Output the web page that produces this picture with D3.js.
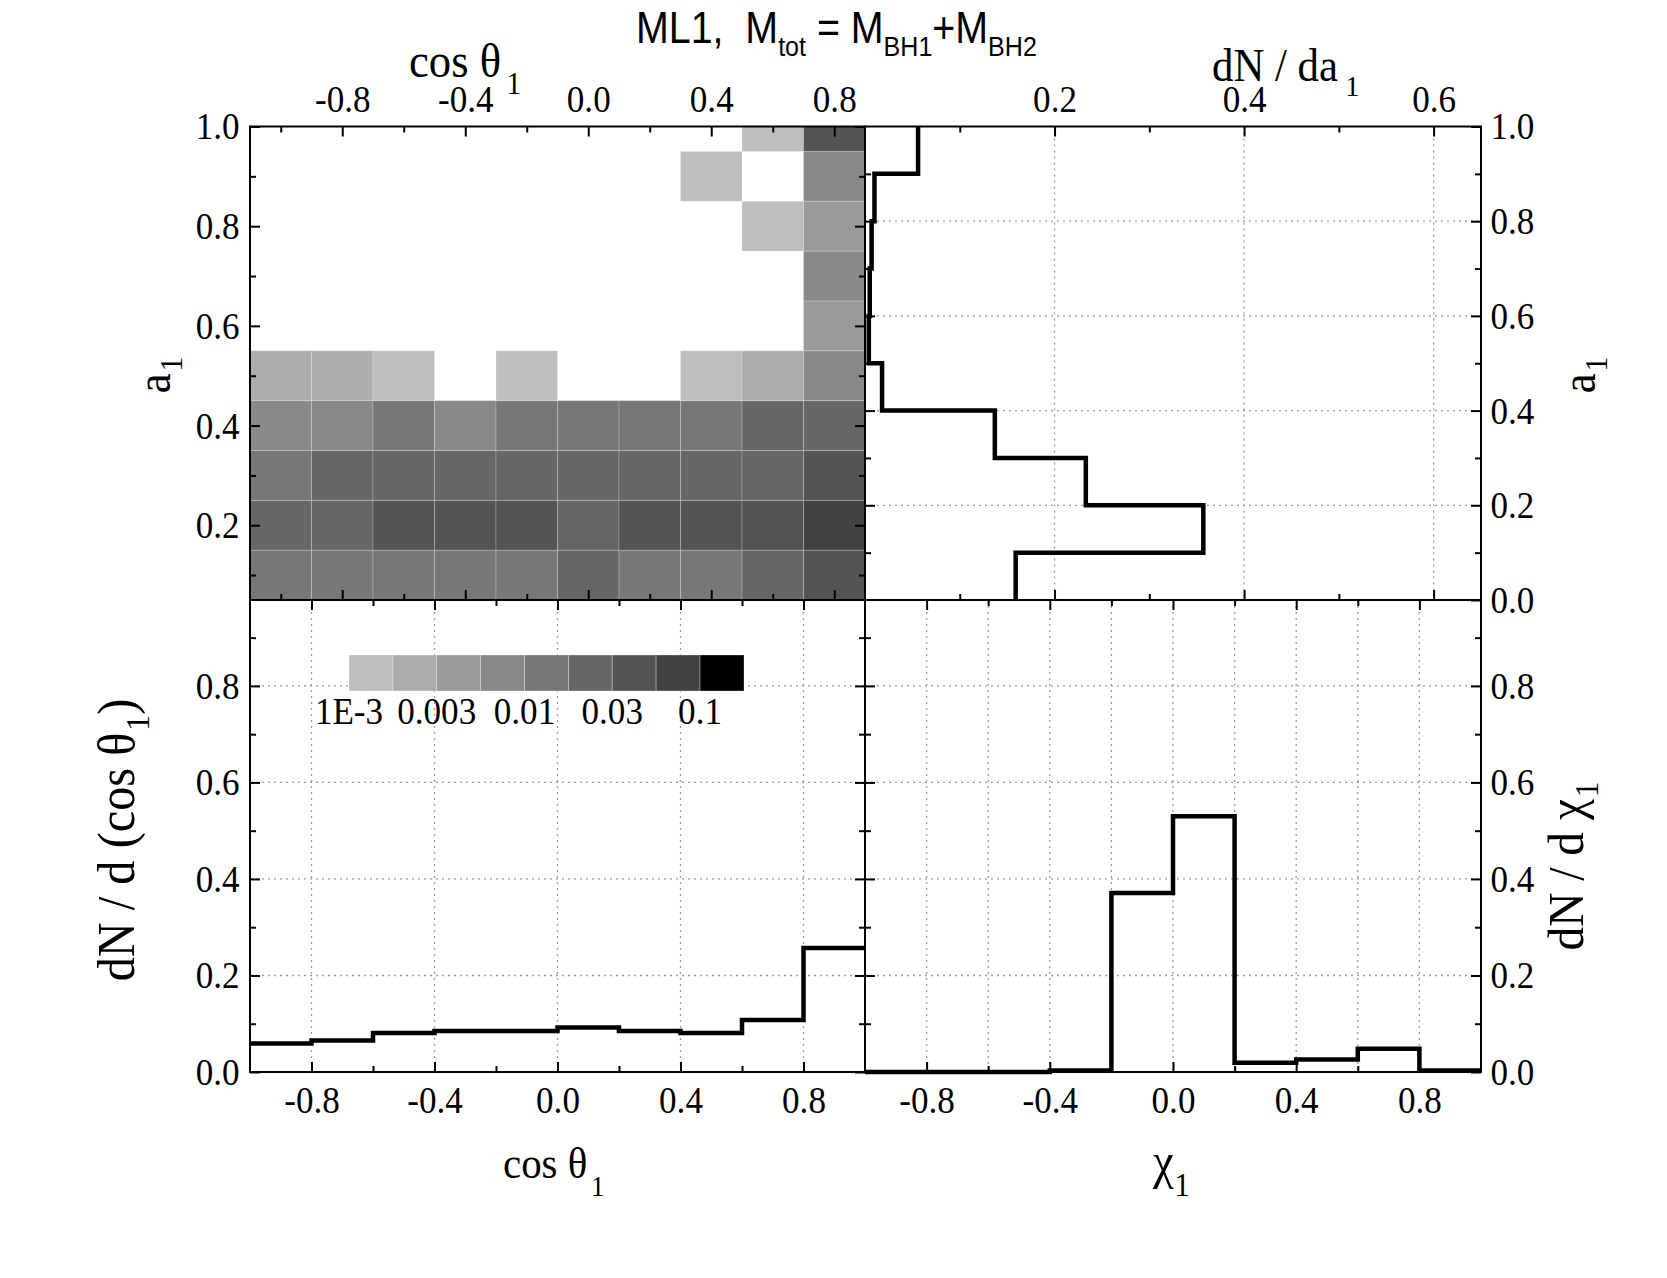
<!DOCTYPE html>
<html>
<head>
<meta charset="utf-8">
<script src="https://cdnjs.cloudflare.com/ajax/libs/d3/7.8.5/d3.min.js"></script>
<style>
  body { margin: 0; background: #fff; }
  svg { display: block; }
  text { font-family: "Liberation Serif", "Times New Roman", serif; fill: #000; }
  .tk { transform-box: fill-box; transform-origin: center; transform: scaleX(0.9); }
  .grid line { stroke: #9a9a9a; stroke-width: 1.3; stroke-dasharray: 2, 4; }
  .frame { fill: none; stroke: #000; stroke-width: 2; }
  .hist { fill: none; stroke: #000; stroke-width: 4.5; stroke-linejoin: miter; }
</style>
</head>
<body>
<div id="graph"></div>
<script>
// ---- data ----
// heat map: rows are a1 bin centres, columns are cos(theta1) bin centres
const cosCentres = [-1.0, -0.8, -0.6, -0.4, -0.2, 0.0, 0.2, 0.4, 0.6, 0.8];
const a1Centres = [0.1, 0.2, 0.3, 0.4, 0.5, 0.6, 0.7, 0.8, 0.9, 1.0];
const heatValues = [
  [0.014, 0.013, 0.014, 0.013, 0.014, 0.024, 0.013, 0.014, 0.022, 0.042],
  [0.028, 0.028, 0.044, 0.043, 0.041, 0.023, 0.043, 0.042, 0.040, 0.075],
  [0.014, 0.024, 0.025, 0.024, 0.023, 0.024, 0.025, 0.023, 0.024, 0.045],
  [0.0076, 0.0078, 0.013, 0.0074, 0.014, 0.013, 0.014, 0.013, 0.022, 0.025],
  [0.0024, 0.0025, 0.0014, 0, 0.0013, 0, 0, 0.0013, 0.0024, 0.0078],
  [0, 0, 0, 0, 0, 0, 0, 0, 0, 0.0043],
  [0, 0, 0, 0, 0, 0, 0, 0, 0, 0.0074],
  [0, 0, 0, 0, 0, 0, 0, 0, 0.0013, 0.0042],
  [0, 0, 0, 0, 0, 0, 0, 0.0014, 0, 0.0076],
  [0, 0, 0, 0, 0, 0, 0, 0, 0.0013, 0.044]
];
const levelBounds = [0.001, 0.00178, 0.00316, 0.00562, 0.01, 0.0178, 0.0316, 0.0562, 0.1, 0.178];
const levelColors = ["#bebebe", "#acacac", "#9a9a9a", "#898989", "#777777", "#666666", "#545454", "#424242", "#000000"];
const legendTickValues = [0.001, 0.00316, 0.01, 0.0316, 0.1];
const legendTickLabels = ["1E-3", "0.003", "0.01", "0.03", "0.1"];

// dN/da1 histogram
const a1Edges = [0, 0.1, 0.2, 0.3, 0.4, 0.5, 0.6, 0.7, 0.8, 0.9, 1.0];
const dNda1 = [0.159, 0.357, 0.233, 0.137, 0.018, 0.004, 0.005, 0.007, 0.010, 0.056];

// dN/dcos(theta1) histogram
const cosEdges = [-1.0, -0.8, -0.6, -0.4, -0.2, 0.0, 0.2, 0.4, 0.6, 0.8, 1.0];
const dNdcos = [0.059, 0.0655, 0.081, 0.085, 0.085, 0.092, 0.085, 0.081, 0.108, 0.257];

// dN/dchi1 histogram
const chiEdges = [-1.0, -0.8, -0.6, -0.4, -0.2, 0.0, 0.2, 0.4, 0.6, 0.8, 1.0];
const dNdchi = [0, 0, 0, 0.003, 0.371, 0.530, 0.019, 0.026, 0.048, 0.003];

// tick values
const cosMajor = [-0.8, -0.4, 0.0, 0.4, 0.8];
const cosMinorHeat = [-1.0, -0.6, -0.2, 0.2, 0.6];
const cosMinor = [-0.6, -0.2, 0.2, 0.6];
const chiGrid = [-0.8, -0.6, -0.4, -0.2, 0.0, 0.2, 0.4, 0.6, 0.8];
const a1MajorHeat = [0.2, 0.4, 0.6, 0.8, 1.0];
const a1Major = [0.0, 0.2, 0.4, 0.6, 0.8, 1.0];
const a1Minor = [0.1, 0.3, 0.5, 0.7, 0.9];
const dNMajor = [0.2, 0.4, 0.6];
const dNMinor = [0.1, 0.3, 0.5];
const pdfMajor = [0.0, 0.2, 0.4, 0.6, 0.8];
const pdfMinor = [0.1, 0.3, 0.5, 0.7, 0.9];
const pdfGrid = [0.2, 0.4, 0.6, 0.8];

// ---- layout ----
const W = 1667, H = 1278;
const L = 250, M = 865, R = 1481, T = 126.5, C = 600, B = 1072;
const tickFont = 39;

const svg = d3.select("#graph").append("svg").attr("width", W).attr("height", H);

const xHeat = d3.scaleLinear().domain([-1.1, 0.9]).range([L, M]);
const yHeat = d3.scaleLinear().domain([0.05, 1.0]).range([C, T]);
const xA = d3.scaleLinear().domain([0, 0.65]).range([M, R]);
const yA = d3.scaleLinear().domain([0, 1]).range([C, T]);
const xCos = d3.scaleLinear().domain([-1, 1]).range([L, M]);
const xChi = d3.scaleLinear().domain([-1, 1]).range([M, R]);
const yPdf = d3.scaleLinear().domain([0, 0.978]).range([B, C]);
const color = d3.scaleThreshold().domain(levelBounds.slice(1, 9)).range(levelColors);

const fmt = (d) => d.toFixed(1);

// ---- heat map ----
svg.append("clipPath").attr("id", "clipHeat")
  .append("rect").attr("x", L).attr("y", T).attr("width", M - L).attr("height", C - T);
const cells = [];
heatValues.forEach((row, i) => row.forEach((v, j) => {
  if (v > 0) cells.push({ a: a1Centres[i], c: cosCentres[j], v: v });
}));
svg.append("g").attr("clip-path", "url(#clipHeat)")
  .selectAll("rect").data(cells).enter().append("rect")
  .attr("x", (d) => xHeat(d.c - 0.1))
  .attr("y", (d) => yHeat(d.a + 0.05))
  .attr("width", (d) => xHeat(d.c + 0.1) - xHeat(d.c - 0.1))
  .attr("height", (d) => yHeat(d.a - 0.05) - yHeat(d.a + 0.05))
  .attr("fill", (d) => color(d.v))
  .attr("stroke", "rgba(255,255,255,0.22)")
  .attr("stroke-width", 1);

// ---- grids ----
function vGrid(xs, vals, y0, y1) {
  svg.append("g").attr("class", "grid").selectAll("line").data(vals).enter().append("line")
    .attr("x1", (d) => xs(d)).attr("x2", (d) => xs(d)).attr("y1", y0).attr("y2", y1);
}
function hGrid(ys, vals, x0, x1) {
  svg.append("g").attr("class", "grid").selectAll("line").data(vals).enter().append("line")
    .attr("y1", (d) => ys(d)).attr("y2", (d) => ys(d)).attr("x1", x0).attr("x2", x1);
}
vGrid(xA, dNMajor, T, C);
hGrid(yA, [0.2, 0.4, 0.6, 0.8], M, R);
vGrid(xCos, cosMajor, C, B);
hGrid(yPdf, pdfGrid, L, M);
vGrid(xChi, chiGrid, C, B);
hGrid(yPdf, pdfGrid, M, R);

// ---- colour bar ----
const xBar = d3.scaleLog().domain([levelBounds[0], levelBounds[9]]).range([349, 744]);
svg.append("g").selectAll("rect").data(levelColors).enter().append("rect")
  .attr("x", (d, i) => xBar(levelBounds[i]))
  .attr("width", (d, i) => xBar(levelBounds[i + 1]) - xBar(levelBounds[i]))
  .attr("y", 655).attr("height", 36)
  .attr("fill", (d) => d)
  .attr("stroke", "rgba(255,255,255,0.3)").attr("stroke-width", 1);
svg.append("g").selectAll("text").data(legendTickValues).enter().append("text")
  .attr("class", "tk")
  .attr("x", (d) => xBar(d)).attr("y", 724)
  .attr("text-anchor", "middle").attr("font-size", tickFont)
  .text((d, i) => legendTickLabels[i]);

// ---- histograms ----
const stepLine = d3.line().x((d) => d[0]).y((d) => d[1]);
const a1Pts = [];
dNda1.forEach((v, i) => { a1Pts.push([xA(v), yA(a1Edges[i])], [xA(v), yA(a1Edges[i + 1])]); });
svg.append("path").attr("class", "hist").attr("d", stepLine(a1Pts));

const cosPts = [];
dNdcos.forEach((v, i) => { cosPts.push([xCos(cosEdges[i]), yPdf(v)], [xCos(cosEdges[i + 1]), yPdf(v)]); });
svg.append("path").attr("class", "hist").attr("d", stepLine(cosPts));

const chiPts = [];
dNdchi.forEach((v, i) => { chiPts.push([xChi(chiEdges[i]), yPdf(v)], [xChi(chiEdges[i + 1]), yPdf(v)]); });
svg.append("path").attr("class", "hist").attr("d", stepLine(chiPts));

// ---- axes (inward ticks) ----
function axis(gen, scale, at, vals, size, pad, labels) {
  const a = gen(scale).tickValues(vals).tickSize(-size).tickPadding(pad)
    .tickFormat(labels ? fmt : () => "");
  const g = svg.append("g").attr("transform", at).call(a);
  g.select(".domain").remove();
  g.selectAll("line").attr("stroke", "#000").attr("stroke-width", 2);
  g.selectAll("text").attr("class", "tk").attr("font-size", tickFont)
    .attr("font-family", "'Liberation Serif', 'Times New Roman', serif");
  g.attr("font-family", null).attr("font-size", null);
  return g;
}
const MAJ = 10, MIN = 6;
// top-left heat map
axis(d3.axisTop, xHeat, `translate(0,${T})`, cosMajor, MAJ, 15, true);
axis(d3.axisTop, xHeat, `translate(0,${T})`, cosMinorHeat, MIN, 15, false);
axis(d3.axisBottom, xHeat, `translate(0,${C})`, cosMajor, MAJ, 15, false);
axis(d3.axisBottom, xHeat, `translate(0,${C})`, cosMinorHeat, MIN, 15, false);
axis(d3.axisLeft, yHeat, `translate(${L},0)`, a1MajorHeat, MAJ, 8, true);
axis(d3.axisLeft, yHeat, `translate(${L},0)`, a1Minor, MIN, 8, false);
axis(d3.axisRight, yHeat, `translate(${M},0)`, a1MajorHeat, MAJ, 10, false);
axis(d3.axisRight, yHeat, `translate(${M},0)`, a1Minor, MIN, 10, false);
// top-right histogram
axis(d3.axisTop, xA, `translate(0,${T})`, dNMajor, MAJ, 15, true);
axis(d3.axisTop, xA, `translate(0,${T})`, dNMinor, MIN, 15, false);
axis(d3.axisBottom, xA, `translate(0,${C})`, dNMajor, MAJ, 15, false);
axis(d3.axisBottom, xA, `translate(0,${C})`, dNMinor, MIN, 15, false);
axis(d3.axisRight, yA, `translate(${R},0)`, a1Major, MAJ, 7, true);
axis(d3.axisRight, yA, `translate(${R},0)`, a1Minor, MIN, 7, false);
axis(d3.axisLeft, yA, `translate(${M},0)`, a1Major.slice(1, 5), MAJ, 9, false);
axis(d3.axisLeft, yA, `translate(${M},0)`, a1Minor, MIN, 9, false);
// bottom-left histogram
axis(d3.axisBottom, xCos, `translate(0,${B})`, cosMajor, MAJ, 13, true);
axis(d3.axisBottom, xCos, `translate(0,${B})`, cosMinor, MIN, 13, false);
axis(d3.axisTop, xCos, `translate(0,${C})`, cosMajor, MAJ, 14, false);
axis(d3.axisTop, xCos, `translate(0,${C})`, cosMinor, MIN, 14, false);
axis(d3.axisLeft, yPdf, `translate(${L},0)`, pdfMajor, MAJ, 8, true);
axis(d3.axisLeft, yPdf, `translate(${L},0)`, pdfMinor, MIN, 8, false);
axis(d3.axisRight, yPdf, `translate(${M},0)`, pdfMajor, MAJ, 10, false);
axis(d3.axisRight, yPdf, `translate(${M},0)`, pdfMinor, MIN, 10, false);
// bottom-right histogram
axis(d3.axisBottom, xChi, `translate(0,${B})`, cosMajor, MAJ, 13, true);
axis(d3.axisBottom, xChi, `translate(0,${B})`, cosMinor, MIN, 13, false);
axis(d3.axisTop, xChi, `translate(0,${C})`, cosMajor, MAJ, 14, false);
axis(d3.axisTop, xChi, `translate(0,${C})`, cosMinor, MIN, 14, false);
axis(d3.axisRight, yPdf, `translate(${R},0)`, pdfMajor, MAJ, 7, true);
axis(d3.axisRight, yPdf, `translate(${R},0)`, pdfMinor, MIN, 7, false);
axis(d3.axisLeft, yPdf, `translate(${M},0)`, pdfMajor.slice(1), MAJ, 9, false);
axis(d3.axisLeft, yPdf, `translate(${M},0)`, pdfMinor, MIN, 9, false);

// ---- frames ----
[[L, T, M, C], [M, T, R, C], [L, C, M, B], [M, C, R, B]].forEach((f) => {
  svg.append("rect").attr("class", "frame")
    .attr("x", f[0]).attr("y", f[1]).attr("width", f[2] - f[0]).attr("height", f[3] - f[1]);
});

// ---- titles ----
function label(x, y, main, sub, rot, anchor, size, subDx, subDy) {
  const t = svg.append("text")
    .attr("transform", `translate(${x},${y})${rot ? " rotate(-90)" : ""} scale(0.93,1)`)
    .attr("text-anchor", anchor).attr("font-size", size);
  t.append("tspan").text(main);
  t.append("tspan").attr("font-size", size * 0.66).attr("dx", subDx).attr("dy", subDy).text(sub);
  return t;
}
label(409, 77, "cos θ", "1", false, "start", 48, 6, 17);
label(1212, 81, "dN / da", "1", false, "start", 46, 8, 15);
label(503, 1178, "cos θ", "1", false, "start", 44, 4, 18);
label(1153, 1178, "χ", "1", false, "start", 50, 1, 18);
label(170, 375, "a", "1", true, "middle", 48, 2, 12);
label(1595, 375, "a", "1", true, "middle", 48, 2, 12);
label(134, 840, "dN / d (cos θ", "1", true, "middle", 52, 2, 15).append("tspan").attr("dy", -15).text(")");
label(1583, 866, "dN / d χ", "1", true, "middle", 51, 2, 15);

// main title, narrow sans
const title = svg.append("text").attr("x", 636).attr("y", 43)
  .attr("font-size", 44).style("white-space", "pre")
  .style("font-family", "'Liberation Sans Narrow', 'Arial Narrow', 'Liberation Sans', Arial, sans-serif");
title.append("tspan").text("ML1,  M");
title.append("tspan").attr("font-size", 28).attr("dy", 13).text("tot");
title.append("tspan").attr("dy", -13).text(" = M");
title.append("tspan").attr("font-size", 28).attr("dy", 13).text("BH1");
title.append("tspan").attr("dy", -13).text("+M");
title.append("tspan").attr("font-size", 28).attr("dy", 13).text("BH2");
const tw = title.node().getComputedTextLength();
title.attr("transform", `translate(636,0) scale(${401 / tw},1) translate(-636,0)`);
</script>
</body>
</html>
